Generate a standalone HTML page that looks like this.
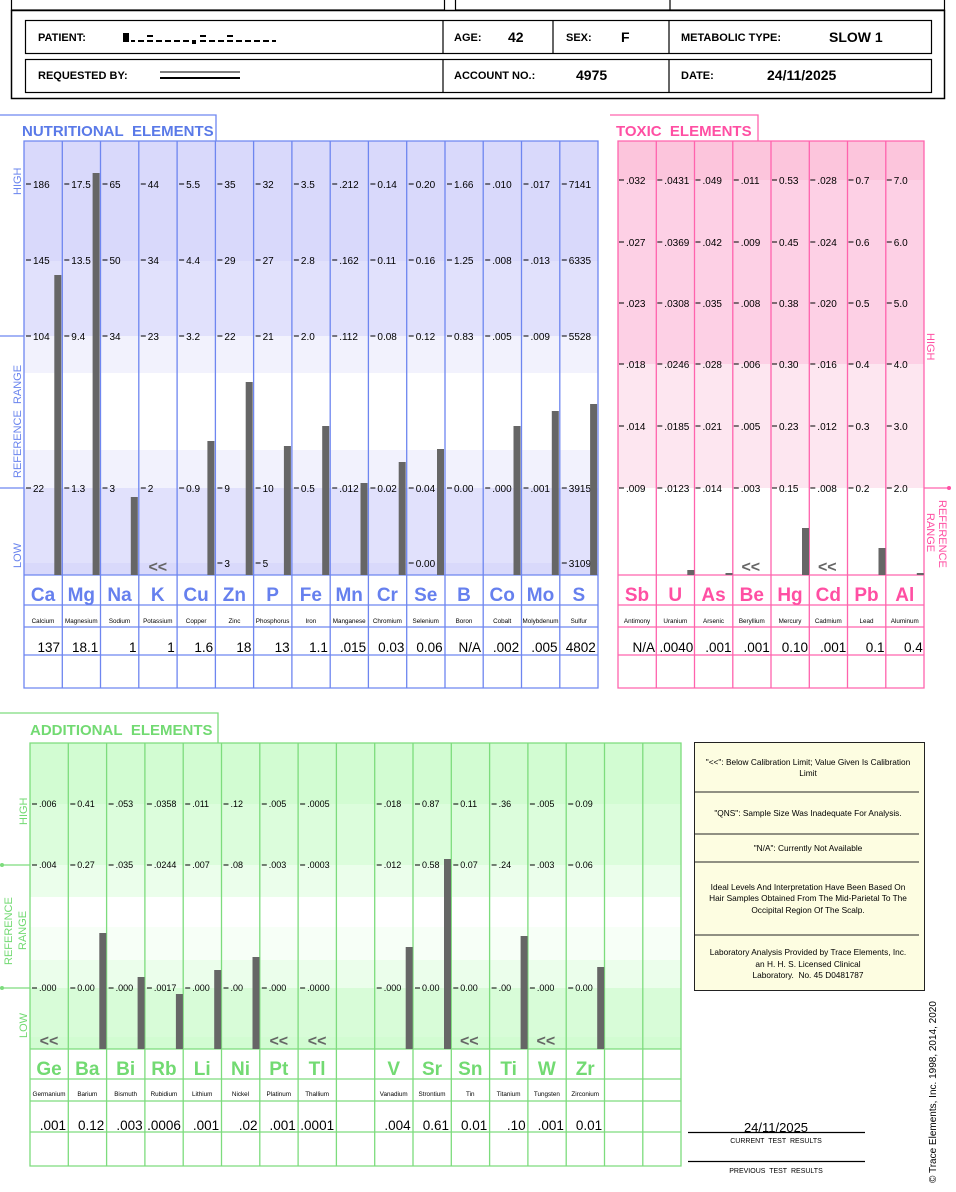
<!DOCTYPE html>
<html><head><meta charset="utf-8"><style>
body{margin:0;background:#fff}
svg{display:block;font-family:"Liberation Sans",sans-serif}
.t{font-size:10px;fill:#000}
.ta{font-size:9px;fill:#000}
.tk{stroke:#000;stroke-width:1}
.b{fill:#666}
.nm{font-size:6.3px;text-anchor:middle;fill:#000}
.v{font-size:13.5px;text-anchor:end;fill:#000}
.sb{font-size:19px;font-weight:bold;text-anchor:middle}
.sn{fill:#6680ee}.sp{fill:#ff4fa3}.sg{fill:#72da72}
.ll{font-size:16px;font-weight:bold;fill:#666;text-anchor:middle}
.h{font-family:"Liberation Sans Narrow","Liberation Sans",sans-serif;font-weight:bold;font-size:11px}
.hv{font-family:"Liberation Sans Narrow","Liberation Sans",sans-serif;font-weight:bold;font-size:14px}
.lg{font-size:8.3px;text-anchor:middle;fill:#000}
</style></head><body>
<svg width="956" height="1192" viewBox="0 0 956 1192" xmlns="http://www.w3.org/2000/svg">
<!-- header -->
<g fill="none" stroke="#000">
<rect x="11.5" y="-5" width="433" height="15" stroke-width="1.2"/>
<rect x="455.5" y="-5" width="489" height="15" stroke-width="1.2"/>
<path d="M670 -5V10" stroke-width="1.2"/>
<rect x="11.5" y="10.5" width="933" height="88" stroke-width="1.5"/>
<rect x="25.5" y="20.5" width="906" height="33" stroke-width="1.2"/>
<rect x="25.5" y="59.5" width="906" height="33" stroke-width="1.2"/>
<path d="M443 20v33M553 20v33M669 20v33M443 59v33M669 59v33" stroke-width="1.2"/>
</g>
<text class="h" x="38" y="41">PATIENT:</text>
<g fill="#000"><rect x="123" y="33" width="6" height="9"/><rect x="131" y="40" width="4" height="2"/><rect x="138" y="40" width="6" height="2"/><rect x="147" y="35" width="6" height="2"/><rect x="147" y="40" width="6" height="2"/><rect x="156" y="40" width="6" height="2"/><rect x="165" y="40" width="6" height="2"/><rect x="174" y="40" width="6" height="2"/><rect x="183" y="40" width="6" height="2"/><rect x="192" y="40" width="4" height="4"/><rect x="200" y="35" width="6" height="2"/><rect x="200" y="40" width="6" height="2"/><rect x="209" y="40" width="6" height="2"/><rect x="218" y="40" width="6" height="2"/><rect x="227" y="35" width="6" height="2"/><rect x="227" y="40" width="6" height="2"/><rect x="236" y="40" width="6" height="2"/><rect x="245" y="40" width="6" height="2"/><rect x="254" y="40" width="6" height="2"/><rect x="263" y="40" width="6" height="2"/><rect x="272" y="40" width="4" height="2"/></g>
<text class="h" x="454" y="41">AGE:</text><text class="hv" x="508" y="42">42</text>
<text class="h" x="566" y="41">SEX:</text><text class="hv" x="621" y="42">F</text>
<text class="h" x="681" y="41">METABOLIC TYPE:</text><text class="hv" x="829" y="42">SLOW 1</text>
<text class="h" x="38" y="79">REQUESTED BY:</text>
<g fill="#000"><rect x="160" y="71" width="80" height="2" opacity=".5"/><rect x="160" y="77" width="80" height="2"/></g>
<text class="h" x="454" y="79">ACCOUNT NO.:</text><text class="hv" x="576" y="80">4975</text>
<text class="h" x="681" y="79">DATE:</text><text class="hv" x="767" y="80">24/11/2025</text>

<!-- NUTRITIONAL -->
<rect x="24" y="141" width="574" height="120" fill="#d9d9fb"/>
<rect x="24" y="261" width="574" height="75" fill="#e1e1fc"/>
<rect x="24" y="336" width="574" height="37" fill="#f2f2fd"/>
<rect x="24" y="450" width="574" height="38" fill="#f2f2fd"/>
<rect x="24" y="488" width="574" height="75" fill="#e1e1fc"/>
<rect x="24" y="563" width="574" height="12" fill="#d9d9fb"/>
<g stroke="#6e86f0" stroke-width="1.3" fill="none">
<path d="M0 115H216V141M24 141H598V688H24ZM24 575H598M24 605H598M24 627H598M24 655H598M0 336H24M0 488H24"/>
<path d="M62.3 141V688M100.5 141V688M138.8 141V688M177.1 141V688M215.4 141V688M253.6 141V688M291.9 141V688M330.2 141V688M368.4 141V688M406.7 141V688M445 141V688M483.2 141V688M521.5 141V688M559.8 141V688"/>
</g>
<text x="22" y="136" style="font-size:15px;font-weight:bold;fill:#5a7ae8">NUTRITIONAL&#160; ELEMENTS</text>
<g style="font-size:11px;fill:#6a84ee">
<text transform="translate(21,195) rotate(-90)">HIGH</text>
<text transform="translate(21,478) rotate(-90)">REFERENCE&#160; RANGE</text>
<text transform="translate(21,568) rotate(-90)">LOW</text>
</g>
<g class="t">
<g transform="translate(24,0)"><path class="tk" d="M2 184h5M2 260h5M2 336h5M2 488h5"/><text x="9" y="188">186</text><text x="9" y="264">145</text><text x="9" y="340">104</text><text x="9" y="492">22</text><rect class="b" x="30.3" y="275" width="7" height="300"/><text class="sb sn" x="19" y="601">Ca</text><text class="nm" x="19" y="623">Calcium</text><text class="v" x="36" y="652">137</text></g>
<g transform="translate(62.3,0)"><path class="tk" d="M2 184h5M2 260h5M2 336h5M2 488h5"/><text x="9" y="188">17.5</text><text x="9" y="264">13.5</text><text x="9" y="340">9.4</text><text x="9" y="492">1.3</text><rect class="b" x="30.3" y="173" width="7" height="402"/><text class="sb sn" x="19" y="601">Mg</text><text class="nm" x="19" y="623">Magnesium</text><text class="v" x="36" y="652">18.1</text></g>
<g transform="translate(100.5,0)"><path class="tk" d="M2 184h5M2 260h5M2 336h5M2 488h5"/><text x="9" y="188">65</text><text x="9" y="264">50</text><text x="9" y="340">34</text><text x="9" y="492">3</text><rect class="b" x="30.3" y="497" width="7" height="78"/><text class="sb sn" x="19" y="601">Na</text><text class="nm" x="19" y="623">Sodium</text><text class="v" x="36" y="652">1</text></g>
<g transform="translate(138.8,0)"><path class="tk" d="M2 184h5M2 260h5M2 336h5M2 488h5"/><text x="9" y="188">44</text><text x="9" y="264">34</text><text x="9" y="340">23</text><text x="9" y="492">2</text><text class="ll" x="19" y="572">&lt;&lt;</text><text class="sb sn" x="19" y="601">K</text><text class="nm" x="19" y="623">Potassium</text><text class="v" x="36" y="652">1</text></g>
<g transform="translate(177.1,0)"><path class="tk" d="M2 184h5M2 260h5M2 336h5M2 488h5"/><text x="9" y="188">5.5</text><text x="9" y="264">4.4</text><text x="9" y="340">3.2</text><text x="9" y="492">0.9</text><rect class="b" x="30.3" y="441" width="7" height="134"/><text class="sb sn" x="19" y="601">Cu</text><text class="nm" x="19" y="623">Copper</text><text class="v" x="36" y="652">1.6</text></g>
<g transform="translate(215.4,0)"><path class="tk" d="M2 184h5M2 260h5M2 336h5M2 488h5M2 563h5"/><text x="9" y="188">35</text><text x="9" y="264">29</text><text x="9" y="340">22</text><text x="9" y="492">9</text><text x="9" y="567">3</text><rect class="b" x="30.3" y="382" width="7" height="193"/><text class="sb sn" x="19" y="601">Zn</text><text class="nm" x="19" y="623">Zinc</text><text class="v" x="36" y="652">18</text></g>
<g transform="translate(253.6,0)"><path class="tk" d="M2 184h5M2 260h5M2 336h5M2 488h5M2 563h5"/><text x="9" y="188">32</text><text x="9" y="264">27</text><text x="9" y="340">21</text><text x="9" y="492">10</text><text x="9" y="567">5</text><rect class="b" x="30.3" y="446" width="7" height="129"/><text class="sb sn" x="19" y="601">P</text><text class="nm" x="19" y="623">Phosphorus</text><text class="v" x="36" y="652">13</text></g>
<g transform="translate(291.9,0)"><path class="tk" d="M2 184h5M2 260h5M2 336h5M2 488h5"/><text x="9" y="188">3.5</text><text x="9" y="264">2.8</text><text x="9" y="340">2.0</text><text x="9" y="492">0.5</text><rect class="b" x="30.3" y="426" width="7" height="149"/><text class="sb sn" x="19" y="601">Fe</text><text class="nm" x="19" y="623">Iron</text><text class="v" x="36" y="652">1.1</text></g>
<g transform="translate(330.2,0)"><path class="tk" d="M2 184h5M2 260h5M2 336h5M2 488h5"/><text x="9" y="188">.212</text><text x="9" y="264">.162</text><text x="9" y="340">.112</text><text x="9" y="492">.012</text><rect class="b" x="30.3" y="483" width="7" height="92"/><text class="sb sn" x="19" y="601">Mn</text><text class="nm" x="19" y="623">Manganese</text><text class="v" x="36" y="652">.015</text></g>
<g transform="translate(368.4,0)"><path class="tk" d="M2 184h5M2 260h5M2 336h5M2 488h5"/><text x="9" y="188">0.14</text><text x="9" y="264">0.11</text><text x="9" y="340">0.08</text><text x="9" y="492">0.02</text><rect class="b" x="30.3" y="462" width="7" height="113"/><text class="sb sn" x="19" y="601">Cr</text><text class="nm" x="19" y="623">Chromium</text><text class="v" x="36" y="652">0.03</text></g>
<g transform="translate(406.7,0)"><path class="tk" d="M2 184h5M2 260h5M2 336h5M2 488h5M2 563h5"/><text x="9" y="188">0.20</text><text x="9" y="264">0.16</text><text x="9" y="340">0.12</text><text x="9" y="492">0.04</text><text x="9" y="567">0.00</text><rect class="b" x="30.3" y="449" width="7" height="126"/><text class="sb sn" x="19" y="601">Se</text><text class="nm" x="19" y="623">Selenium</text><text class="v" x="36" y="652">0.06</text></g>
<g transform="translate(445,0)"><path class="tk" d="M2 184h5M2 260h5M2 336h5M2 488h5"/><text x="9" y="188">1.66</text><text x="9" y="264">1.25</text><text x="9" y="340">0.83</text><text x="9" y="492">0.00</text><text class="sb sn" x="19" y="601">B</text><text class="nm" x="19" y="623">Boron</text><text class="v" x="36" y="652">N/A</text></g>
<g transform="translate(483.2,0)"><path class="tk" d="M2 184h5M2 260h5M2 336h5M2 488h5"/><text x="9" y="188">.010</text><text x="9" y="264">.008</text><text x="9" y="340">.005</text><text x="9" y="492">.000</text><rect class="b" x="30.3" y="426" width="7" height="149"/><text class="sb sn" x="19" y="601">Co</text><text class="nm" x="19" y="623">Cobalt</text><text class="v" x="36" y="652">.002</text></g>
<g transform="translate(521.5,0)"><path class="tk" d="M2 184h5M2 260h5M2 336h5M2 488h5"/><text x="9" y="188">.017</text><text x="9" y="264">.013</text><text x="9" y="340">.009</text><text x="9" y="492">.001</text><rect class="b" x="30.3" y="411" width="7" height="164"/><text class="sb sn" x="19" y="601">Mo</text><text class="nm" x="19" y="623">Molybdenum</text><text class="v" x="36" y="652">.005</text></g>
<g transform="translate(559.8,0)"><path class="tk" d="M2 184h5M2 260h5M2 336h5M2 488h5M2 563h5"/><text x="9" y="188">7141</text><text x="9" y="264">6335</text><text x="9" y="340">5528</text><text x="9" y="492">3915</text><text x="9" y="567">3109</text><rect class="b" x="30.3" y="404" width="7" height="171"/><text class="sb sn" x="19" y="601">S</text><text class="nm" x="19" y="623">Sulfur</text><text class="v" x="36" y="652">4802</text></g>
</g>

<!-- TOXIC -->
<rect x="618" y="141" width="306" height="39" fill="#fcc5dc"/>
<rect x="618" y="180" width="306" height="184" fill="#fdd0e5"/>
<rect x="618" y="364" width="306" height="124" fill="#fde6f0"/>
<g stroke="#ff63ad" stroke-width="1.3" fill="none">
<path d="M610 115H758V141M618 141H924V688H618ZM618 575H924M618 605H924M618 627H924M618 655H924M924 488H949"/>
<path d="M656.3 141V688M694.5 141V688M732.8 141V688M771 141V688M809.3 141V688M847.5 141V688M885.8 141V688"/>
</g>
<circle cx="949" cy="488" r="2" fill="#ff4fa3"/>
<text x="616" y="136" style="font-size:15px;font-weight:bold;fill:#ff4fa3">TOXIC&#160; ELEMENTS</text>
<g style="font-size:11px;fill:#ff4fa3">
<text transform="translate(927,333) rotate(90)">HIGH</text>
<text transform="translate(939,500) rotate(90)">REFERENCE</text>
<text transform="translate(927,513) rotate(90)">RANGE</text>
</g>
<g class="t">
<g transform="translate(618,0)"><path class="tk" d="M1 180h5M1 242h5M1 303h5M1 364h5M1 426h5M1 488h5"/><text x="8" y="184">.032</text><text x="8" y="246">.027</text><text x="8" y="307">.023</text><text x="8" y="368">.018</text><text x="8" y="430">.014</text><text x="8" y="492">.009</text><text class="sb sp" x="19" y="601">Sb</text><text class="nm" x="19" y="623">Antimony</text><text class="v" x="37" y="652">N/A</text></g>
<g transform="translate(656.3,0)"><path class="tk" d="M1 180h5M1 242h5M1 303h5M1 364h5M1 426h5M1 488h5"/><text x="8" y="184">.0431</text><text x="8" y="246">.0369</text><text x="8" y="307">.0308</text><text x="8" y="368">.0246</text><text x="8" y="430">.0185</text><text x="8" y="492">.0123</text><rect class="b" x="31" y="570" width="7" height="5"/><text class="sb sp" x="19" y="601">U</text><text class="nm" x="19" y="623">Uranium</text><text class="v" x="37" y="652">.0040</text></g>
<g transform="translate(694.5,0)"><path class="tk" d="M1 180h5M1 242h5M1 303h5M1 364h5M1 426h5M1 488h5"/><text x="8" y="184">.049</text><text x="8" y="246">.042</text><text x="8" y="307">.035</text><text x="8" y="368">.028</text><text x="8" y="430">.021</text><text x="8" y="492">.014</text><rect class="b" x="31" y="573" width="7" height="2"/><text class="sb sp" x="19" y="601">As</text><text class="nm" x="19" y="623">Arsenic</text><text class="v" x="37" y="652">.001</text></g>
<g transform="translate(732.8,0)"><path class="tk" d="M1 180h5M1 242h5M1 303h5M1 364h5M1 426h5M1 488h5"/><text x="8" y="184">.011</text><text x="8" y="246">.009</text><text x="8" y="307">.008</text><text x="8" y="368">.006</text><text x="8" y="430">.005</text><text x="8" y="492">.003</text><text class="ll" x="18" y="572">&lt;&lt;</text><text class="sb sp" x="19" y="601">Be</text><text class="nm" x="19" y="623">Beryllium</text><text class="v" x="37" y="652">.001</text></g>
<g transform="translate(771,0)"><path class="tk" d="M1 180h5M1 242h5M1 303h5M1 364h5M1 426h5M1 488h5"/><text x="8" y="184">0.53</text><text x="8" y="246">0.45</text><text x="8" y="307">0.38</text><text x="8" y="368">0.30</text><text x="8" y="430">0.23</text><text x="8" y="492">0.15</text><rect class="b" x="31" y="528" width="7" height="47"/><text class="sb sp" x="19" y="601">Hg</text><text class="nm" x="19" y="623">Mercury</text><text class="v" x="37" y="652">0.10</text></g>
<g transform="translate(809.3,0)"><path class="tk" d="M1 180h5M1 242h5M1 303h5M1 364h5M1 426h5M1 488h5"/><text x="8" y="184">.028</text><text x="8" y="246">.024</text><text x="8" y="307">.020</text><text x="8" y="368">.016</text><text x="8" y="430">.012</text><text x="8" y="492">.008</text><text class="ll" x="18" y="572">&lt;&lt;</text><text class="sb sp" x="19" y="601">Cd</text><text class="nm" x="19" y="623">Cadmium</text><text class="v" x="37" y="652">.001</text></g>
<g transform="translate(847.5,0)"><path class="tk" d="M1 180h5M1 242h5M1 303h5M1 364h5M1 426h5M1 488h5"/><text x="8" y="184">0.7</text><text x="8" y="246">0.6</text><text x="8" y="307">0.5</text><text x="8" y="368">0.4</text><text x="8" y="430">0.3</text><text x="8" y="492">0.2</text><rect class="b" x="31" y="548" width="7" height="27"/><text class="sb sp" x="19" y="601">Pb</text><text class="nm" x="19" y="623">Lead</text><text class="v" x="37" y="652">0.1</text></g>
<g transform="translate(885.8,0)"><path class="tk" d="M1 180h5M1 242h5M1 303h5M1 364h5M1 426h5M1 488h5"/><text x="8" y="184">7.0</text><text x="8" y="246">6.0</text><text x="8" y="307">5.0</text><text x="8" y="368">4.0</text><text x="8" y="430">3.0</text><text x="8" y="492">2.0</text><rect class="b" x="31" y="573" width="7" height="2"/><text class="sb sp" x="19" y="601">Al</text><text class="nm" x="19" y="623">Aluminum</text><text class="v" x="37" y="652">0.4</text></g>
</g>

<!-- ADDITIONAL -->
<rect x="30" y="743" width="651" height="61" fill="#d2fcd2"/>
<rect x="30" y="804" width="651" height="61" fill="#dcfddc"/>
<rect x="30" y="865" width="651" height="32" fill="#ebfeeb"/>
<rect x="30" y="927" width="651" height="33" fill="#f7fff7"/>
<rect x="30" y="960" width="651" height="28" fill="#ebfeeb"/>
<rect x="30" y="988" width="651" height="49" fill="#d8fcd8"/>
<rect x="30" y="1037" width="651" height="12" fill="#d2fcd2"/>
<g stroke="#7ddc7d" stroke-width="1.3" fill="none">
<path d="M0 713H218V743M30 743H681V1166H30ZM30 1049H681M30 1079H681M30 1101H681M30 1132H681M0 865H30M0 988H30"/>
<path d="M68.3 743V1166M106.6 743V1166M144.9 743V1166M183.2 743V1166M221.5 743V1166M259.8 743V1166M298.1 743V1166M336.4 743V1166M374.7 743V1166M413 743V1166M451.3 743V1166M489.6 743V1166M527.9 743V1166M566.2 743V1166M604.5 743V1166M642.8 743V1166"/>
</g>
<circle cx="2" cy="865" r="2" fill="#7ddc7d"/><circle cx="2" cy="988" r="2" fill="#7ddc7d"/>
<text x="30" y="735" style="font-size:15px;font-weight:bold;fill:#72da72">ADDITIONAL&#160; ELEMENTS</text>
<g style="font-size:11px;fill:#72da72">
<text transform="translate(27,825) rotate(-90)">HIGH</text>
<text transform="translate(12,965) rotate(-90)">REFERENCE</text>
<text transform="translate(26,950) rotate(-90)">RANGE</text>
<text transform="translate(27,1038) rotate(-90)">LOW</text>
</g>
<g class="ta">
<g transform="translate(30,0)"><path class="tk" d="M2 804h5M2 865h5M2 988h5"/><text x="9" y="807">.006</text><text x="9" y="868">.004</text><text x="9" y="991">.000</text><text class="ll" x="19" y="1046">&lt;&lt;</text><text class="sb sg" x="19" y="1075">Ge</text><text class="nm" x="19" y="1096">Germanium</text><text class="v" x="36" y="1130">.001</text></g>
<g transform="translate(68.3,0)"><path class="tk" d="M2 804h5M2 865h5M2 988h5"/><text x="9" y="807">0.41</text><text x="9" y="868">0.27</text><text x="9" y="991">0.00</text><rect class="b" x="31" y="933" width="7" height="116"/><text class="sb sg" x="19" y="1075">Ba</text><text class="nm" x="19" y="1096">Barium</text><text class="v" x="36" y="1130">0.12</text></g>
<g transform="translate(106.6,0)"><path class="tk" d="M2 804h5M2 865h5M2 988h5"/><text x="9" y="807">.053</text><text x="9" y="868">.035</text><text x="9" y="991">.000</text><rect class="b" x="31" y="977" width="7" height="72"/><text class="sb sg" x="19" y="1075">Bi</text><text class="nm" x="19" y="1096">Bismuth</text><text class="v" x="36" y="1130">.003</text></g>
<g transform="translate(144.9,0)"><path class="tk" d="M2 804h5M2 865h5M2 988h5"/><text x="9" y="807">.0358</text><text x="9" y="868">.0244</text><text x="9" y="991">.0017</text><rect class="b" x="31" y="994" width="7" height="55"/><text class="sb sg" x="19" y="1075">Rb</text><text class="nm" x="19" y="1096">Rubidium</text><text class="v" x="36" y="1130">.0006</text></g>
<g transform="translate(183.2,0)"><path class="tk" d="M2 804h5M2 865h5M2 988h5"/><text x="9" y="807">.011</text><text x="9" y="868">.007</text><text x="9" y="991">.000</text><rect class="b" x="31" y="970" width="7" height="79"/><text class="sb sg" x="19" y="1075">Li</text><text class="nm" x="19" y="1096">Lithium</text><text class="v" x="36" y="1130">.001</text></g>
<g transform="translate(221.5,0)"><path class="tk" d="M2 804h5M2 865h5M2 988h5"/><text x="9" y="807">.12</text><text x="9" y="868">.08</text><text x="9" y="991">.00</text><rect class="b" x="31" y="957" width="7" height="92"/><text class="sb sg" x="19" y="1075">Ni</text><text class="nm" x="19" y="1096">Nickel</text><text class="v" x="36" y="1130">.02</text></g>
<g transform="translate(259.8,0)"><path class="tk" d="M2 804h5M2 865h5M2 988h5"/><text x="9" y="807">.005</text><text x="9" y="868">.003</text><text x="9" y="991">.000</text><text class="ll" x="19" y="1046">&lt;&lt;</text><text class="sb sg" x="19" y="1075">Pt</text><text class="nm" x="19" y="1096">Platinum</text><text class="v" x="36" y="1130">.001</text></g>
<g transform="translate(298.1,0)"><path class="tk" d="M2 804h5M2 865h5M2 988h5"/><text x="9" y="807">.0005</text><text x="9" y="868">.0003</text><text x="9" y="991">.0000</text><text class="ll" x="19" y="1046">&lt;&lt;</text><text class="sb sg" x="19" y="1075">Tl</text><text class="nm" x="19" y="1096">Thallium</text><text class="v" x="36" y="1130">.0001</text></g>
<g transform="translate(374.7,0)"><path class="tk" d="M2 804h5M2 865h5M2 988h5"/><text x="9" y="807">.018</text><text x="9" y="868">.012</text><text x="9" y="991">.000</text><rect class="b" x="31" y="947" width="7" height="102"/><text class="sb sg" x="19" y="1075">V</text><text class="nm" x="19" y="1096">Vanadium</text><text class="v" x="36" y="1130">.004</text></g>
<g transform="translate(413,0)"><path class="tk" d="M2 804h5M2 865h5M2 988h5"/><text x="9" y="807">0.87</text><text x="9" y="868">0.58</text><text x="9" y="991">0.00</text><rect class="b" x="31" y="859" width="7" height="190"/><text class="sb sg" x="19" y="1075">Sr</text><text class="nm" x="19" y="1096">Strontium</text><text class="v" x="36" y="1130">0.61</text></g>
<g transform="translate(451.3,0)"><path class="tk" d="M2 804h5M2 865h5M2 988h5"/><text x="9" y="807">0.11</text><text x="9" y="868">0.07</text><text x="9" y="991">0.00</text><text class="ll" x="18" y="1046">&lt;&lt;</text><text class="sb sg" x="19" y="1075">Sn</text><text class="nm" x="19" y="1096">Tin</text><text class="v" x="36" y="1130">0.01</text></g>
<g transform="translate(489.6,0)"><path class="tk" d="M2 804h5M2 865h5M2 988h5"/><text x="9" y="807">.36</text><text x="9" y="868">.24</text><text x="9" y="991">.00</text><rect class="b" x="31" y="936" width="7" height="113"/><text class="sb sg" x="19" y="1075">Ti</text><text class="nm" x="19" y="1096">Titanium</text><text class="v" x="36" y="1130">.10</text></g>
<g transform="translate(527.9,0)"><path class="tk" d="M2 804h5M2 865h5M2 988h5"/><text x="9" y="807">.005</text><text x="9" y="868">.003</text><text x="9" y="991">.000</text><text class="ll" x="18" y="1046">&lt;&lt;</text><text class="sb sg" x="19" y="1075">W</text><text class="nm" x="19" y="1096">Tungsten</text><text class="v" x="36" y="1130">.001</text></g>
<g transform="translate(566.2,0)"><path class="tk" d="M2 804h5M2 865h5M2 988h5"/><text x="9" y="807">0.09</text><text x="9" y="868">0.06</text><text x="9" y="991">0.00</text><rect class="b" x="31" y="967" width="7" height="82"/><text class="sb sg" x="19" y="1075">Zr</text><text class="nm" x="19" y="1096">Zirconium</text><text class="v" x="36" y="1130">0.01</text></g>
</g>

<!-- legend -->
<rect x="694.5" y="742.5" width="230" height="248" fill="#fdfde1" stroke="#222" stroke-width="1"/>
<path d="M695 792H919M695 834H919M695 862H919M695 935H919" stroke="#222" stroke-width="1"/>
<g class="lg">
<text x="808" y="765">"&lt;&lt;": Below Calibration Limit; Value Given Is Calibration</text>
<text x="808" y="776">Limit</text>
<text x="808" y="816">"QNS": Sample Size Was Inadequate For Analysis.</text>
<text x="808" y="851">"N/A": Currently Not Available</text>
<text x="808" y="890">Ideal Levels And Interpretation Have Been Based On</text>
<text x="808" y="901">Hair Samples Obtained From The Mid-Parietal To The</text>
<text x="808" y="913">Occipital Region Of The Scalp.</text>
<text x="808" y="955">Laboratory Analysis Provided by Trace Elements, Inc.</text>
<text x="808" y="967">an H. H. S. Licensed Clinical</text>
<text x="808" y="978">Laboratory.&#160; No. 45 D0481787</text>
</g>
<path d="M688 1132.5H865M688 1161.5H865" stroke="#000" stroke-width="1.2"/>
<text x="776" y="1132" style="font-size:13px;text-anchor:middle">24/11/2025</text>
<text x="776" y="1143" style="font-size:7px;text-anchor:middle">CURRENT&#160; TEST&#160; RESULTS</text>
<text x="776" y="1173" style="font-size:7px;text-anchor:middle">PREVIOUS&#160; TEST&#160; RESULTS</text>
<text transform="translate(936,1183) rotate(-90)" style="font-size:10px">© Trace Elements, Inc. 1998, 2014, 2020</text>
</svg>
</body></html>
